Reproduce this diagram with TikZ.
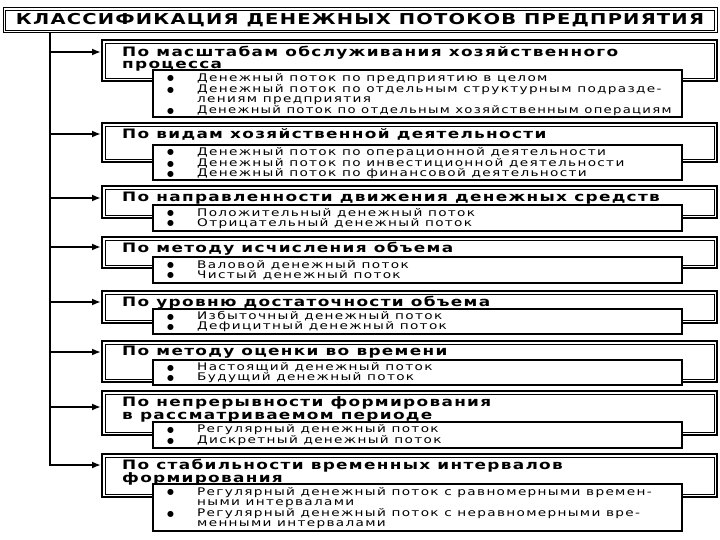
\documentclass[tikz,border=0pt]{standalone}
\usepackage{graphicx}
\usepackage{fontspec}
\setmainfont{DejaVu Sans}
\newfontfamily\ttlfont[FakeStretch=1.3,LetterSpace=8]{DejaVu Sans}
\newfontfamily\hdrfont[FakeStretch=1.3,LetterSpace=10]{DejaVu Sans}
\newfontfamily\itmfont[FakeStretch=1.3,LetterSpace=12.5]{DejaVu Sans}
\usetikzlibrary{arrows.meta}
\newcommand\bul{\makebox[30pt][l]{\raisebox{0.3pt}{\scalebox{0.75}{\normalfont●}}}}
\newcommand\cnt{\hspace*{30pt}}
\newcommand\mkcat[3]{%
  \node[catb, minimum height={#3-#2}] (#1) at (409.5,{(#2+#3)/2}) {};
  \draw[line width=0.6pt] ([shift={(4pt,-4pt)}]#1.north west) rectangle ([shift={(-4pt,4pt)}]#1.south east);}
\newcommand\mksub[3]{%
  \node[subb, minimum height={#3-#2}] (#1) at (417.5,{(#2+#3)/2}) {};}
\begin{document}
\begin{tikzpicture}[x=1pt,y=-1pt,
  spine/.style={line width=2.2pt},
  arr/.style={line width=2.2pt,-{Latex[length=9pt,width=7pt]}},
  catb/.style={draw,line width=2pt,fill=white,minimum width=615pt,inner sep=0pt},
  subb/.style={draw,line width=2.2pt,fill=white,minimum width=529pt,inner sep=0pt},
  hdr/.style={anchor=north west,inner sep=0pt,align=left,font=\hdrfont\bfseries\fontsize{13}{12.5}\selectfont},
  itm/.style={anchor=north west,inner sep=0pt,align=left,font=\itmfont\fontsize{10.5}{10}\selectfont}]
\useasboundingbox (0,0) rectangle (720,540);
% title
\node[draw,line width=1pt,minimum width=714pt,minimum height=25pt,inner sep=0pt] (title) at (360,20.5)
  {\ttlfont\bfseries\fontsize{15}{15}\selectfont КЛАССИФИКАЦИЯ ДЕНЕЖНЫХ ПОТОКОВ ПРЕДПРИЯТИЯ};
\draw[line width=1.6pt] ([shift={(3pt,-3pt)}]title.north west) rectangle ([shift={(-3pt,3pt)}]title.south east);
% category boxes
\mkcat{c1}{40}{81}
\mkcat{c2}{123}{162}
\mkcat{c3}{186}{218}
\mkcat{c4}{237}{268}
\mkcat{c5}{291}{323}
\mkcat{c6}{341}{382}
\mkcat{c7}{391}{435}
\mkcat{c8}{454}{497}
% sub boxes
\mksub{s1}{70}{117}
\mksub{s2}{145}{180}
\mksub{s3}{205}{231}
\mksub{s4}{257}{283}
\mksub{s5}{309}{334}
\mksub{s6}{360}{385}
\mksub{s7}{422}{448}
\mksub{s8}{484}{531}
% headers
\node[hdr] (h1) at (122,45.5) {По масштабам обслуживания хозяйственного\\процесса};
\node[hdr] (h2) at (122,128.5) {По видам хозяйственной деятельности};
\node[hdr] (h3) at (122,191.5) {По направленности движения денежных средств};
\node[hdr] (h4) at (122,241.5) {По методу исчисления объема};
\node[hdr] (h5) at (122,295.5) {По уровню достаточности объема};
\node[hdr] (h6) at (122,345.5) {По методу оценки во времени};
\node[hdr] (h7) at (122,396.5) {По непрерывности формирования\\в рассматриваемом периоде};
\node[hdr] (h8) at (122,458.5) {По стабильности временных интервалов\\формирования};
% items
\node[itm] (t1) at (167,73) {\bul Денежный поток по предприятию в целом\\\bul Денежный поток по отдельным структурным подразде-\\\cnt лениям предприятия\\\bul \scalebox{0.97}[1]{Денежный поток по отдельным хозяйственным операциям}};
\node[itm] (t2) at (167,147) {\bul Денежный поток по операционной деятельности\\\bul Денежный поток по инвестиционной деятельности\\\bul Денежный поток по финансовой деятельности};
\node[itm] (t3) at (167,208) {\bul Положительный денежный поток\\\bul Отрицательный денежный поток};
\node[itm] (t4) at (167,260) {\bul Валовой денежный поток\\\bul Чистый денежный поток};
\node[itm] (t5) at (167,311.5) {\bul Избыточный денежный поток\\\bul Дефицитный денежный поток};
\node[itm] (t6) at (167,362.5) {\bul Настоящий денежный поток\\\bul Будущий денежный поток};
\node[itm] (t7) at (167,424.5) {\bul Регулярный денежный поток\\\bul Дискретный денежный поток};
\node[itm] (t8) at (167,487) {\bul Регулярный денежный поток с равномерными времен-\\\cnt ными интервалами\\\bul Регулярный денежный поток с неравномерными вре-\\\cnt менными интервалами};
% spine and arrows
\coordinate (s0) at (50,32);
\coordinate (a1) at (50,52);
\coordinate (a2) at (50,134);
\coordinate (a3) at (50,198);
\coordinate (a4) at (50,247);
\coordinate (a5) at (50,302);
\coordinate (a6) at (50,352);
\coordinate (a7) at (50,407);
\coordinate (a8) at (50,465);
\draw[arr] (s0) |- (c8.west |- a8);
\foreach \i in {1,...,7} \draw[arr] (a\i) -- (c\i.west |- a\i);
\end{tikzpicture}
\end{document}
